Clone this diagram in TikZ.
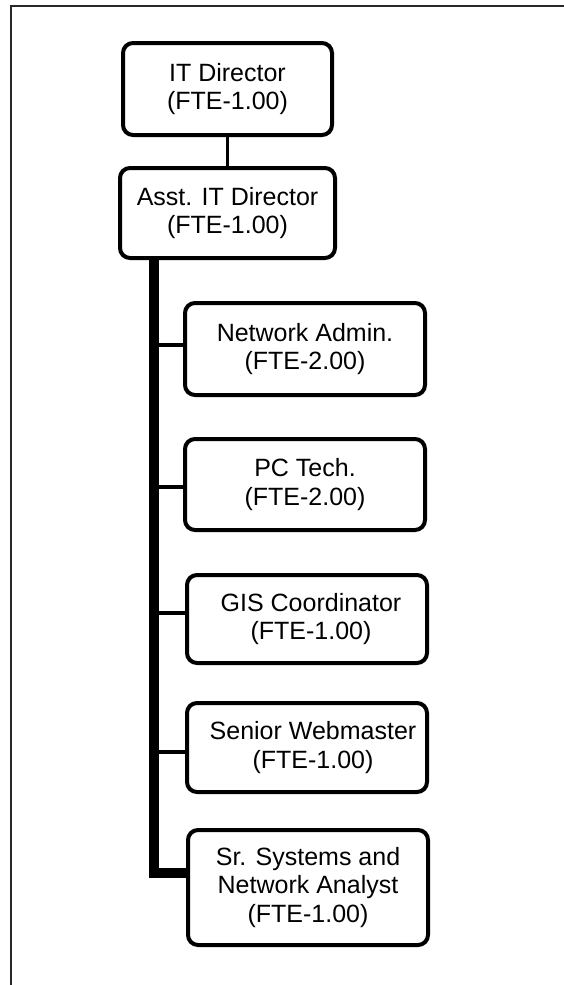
\documentclass[tikz,border=0pt]{standalone}
\usepackage{fontspec}
\setmainfont{Liberation Sans}

\tikzset{every picture/.style={line width=0.75pt}}
\tikzset{
  posbox/.style={draw, rounded corners=10, line width=4, inner sep=0,
    minimum width=240, align=center, font=\fontsize{25}{28.5}\selectfont},
  branch/.style={line width=3.5},
  trunkline/.style={line width=10, line join=miter},
}

\begin{document}
\begin{tikzpicture}[x=1pt,y=-1pt]
\useasboundingbox (0,0) rectangle (564,985);

%Shape: Frame
\draw [color={rgb, 255:red, 40; green, 40; blue, 40 }][line width=2]  (564,6) -- (11,6) -- (11,985) ;

% Text Node
\node [posbox, minimum width=209, minimum height=92] (dir) at (227.5,89) {IT Director\\(FTE-1.00)};
% Text Node
\node [posbox, minimum width=215, minimum height=90] (asst) at (227.5,213) {Asst. IT Director\\(FTE-1.00)};
% Text Node
\node [posbox, minimum height=92] (net) at (305,349) {Network Admin.\\(FTE-2.00)};
% Text Node
\node [posbox, minimum height=91] (pc) at (305,484.5) {PC Tech.\\(FTE-2.00)};
% Text Node
\node [posbox, minimum height=88] (gis) at (307,619) {\hspace{8pt}GIS Coordinator\\\hspace{8pt}(FTE-1.00)};
% Text Node
\node [posbox, minimum height=89] (web) at (307,747.5) {\hspace{12pt}Senior Webmaster\\\hspace{12pt}(FTE-1.00)};
% Text Node
\node [posbox, minimum height=115] (sys) at (308,887.5) {Sr. Systems and\\Network Analyst\\(FTE-1.00)};

% branch points
\coordinate (trunk) at (asst.south -| 153.5,0);
\path ([yshift=4]net.west) coordinate (netin);
\path ([yshift=-2.5]pc.west) coordinate (pcin);
\path ([yshift=6]gis.west) coordinate (gisin);
\path ([yshift=-4.5]web.west) coordinate (webin);
\path ([yshift=14.5]sys.west) coordinate (sysin);

%Straight Lines
\draw [branch]  (dir.south) -- (asst.north) ;
%Straight Lines
\draw [trunkline]  (trunk) |- (sysin) ;
%Straight Lines
\draw [branch]  (trunk |- netin) -- (netin) ;
\draw [branch]  (trunk |- pcin) -- (pcin) ;
\draw [branch]  (trunk |- gisin) -- (gisin) ;
\draw [branch]  (trunk |- webin) -- (webin) ;

\end{tikzpicture}
\end{document}
